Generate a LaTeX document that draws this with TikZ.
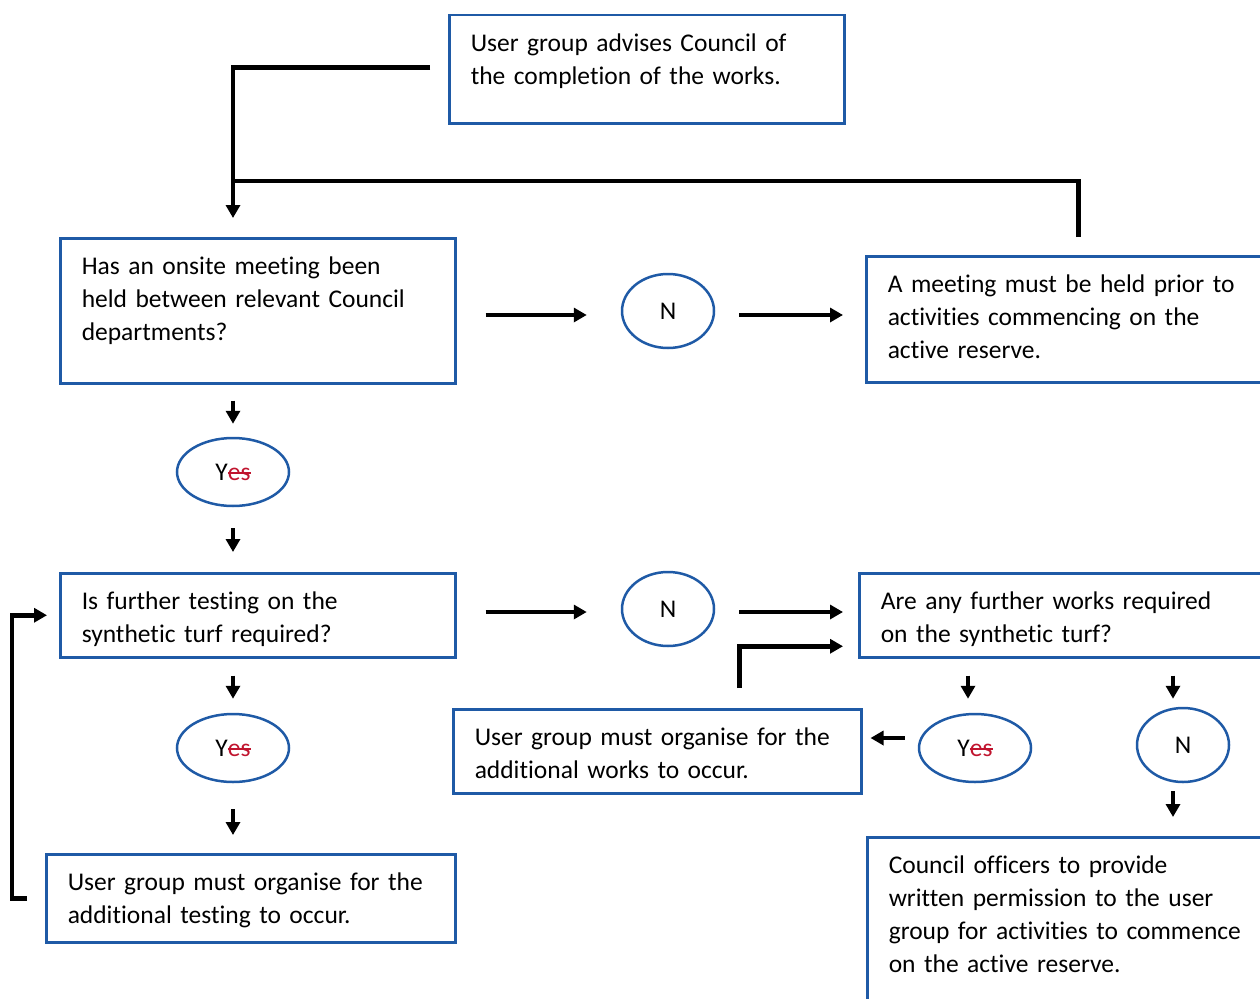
\documentclass[tikz,border=0pt]{standalone}
\usepackage{fontspec}
\setmainfont{Carlito}[Ligatures=NoCommon]
\usetikzlibrary{shapes.geometric, arrows.meta, positioning, calc}
\definecolor{flowblue}{HTML}{1F5AA6}
\definecolor{yesred}{HTML}{C0142E}
\newlength{\eswidth}
\newcommand{\yesword}{Y{\color{yesred}\settowidth{\eswidth}{es}\rlap{es}\rule[0.24em]{\eswidth}{1.8pt}}}

\begin{document}
\begin{tikzpicture}[x=1pt, y=-1pt,
  box/.style={rectangle, draw=flowblue, line width=2.5pt, anchor=north west, align=left, inner xsep=21.5pt, inner ysep=0pt, text height=36pt, font=\fontsize{25.5}{33}\selectfont},
  oval/.style={ellipse, draw=flowblue, line width=2.5pt, inner sep=0pt, minimum width=92pt, minimum height=74pt, font=\fontsize{25.5}{33}\selectfont},
  yesoval/.style={oval, minimum width=112pt, minimum height=68pt},
  arr/.style={-{Triangle[length=13pt, width=14pt]}, line width=4.5pt},
  link/.style={line width=4.5pt},
]
\useasboundingbox (0,0) rectangle (1260,998);
\clip (0,0) rectangle (1260,998);

% --- boxes ---
\node[box, text width=352pt, text depth=72pt] (b1) at (448,14) {User group advises Council of\\ the completion of the works.};
\node[box, text width=352pt, text depth=109pt] (b2) at (59,237) {Has an onsite meeting been\\ held between relevant Council\\ departments?};
\node[box, text width=381pt, text depth=90pt] (b3) at (865,255) {A meeting must be held prior to\\ activities commencing on the\\ active reserve.};
\node[box, text width=352pt, text depth=48pt] (b4) at (59,572) {Is further testing on the\\ synthetic turf required?};
\node[box, text width=387pt, text depth=48pt] (b5) at (858,572) {Are any further works required\\ on the synthetic turf?};
\node[box, text width=365pt, text depth=48pt] (b6) at (452,708) {User group must organise for the\\ additional works to occur.};
\node[box, text width=366pt, text depth=52pt] (b7) at (45,853) {User group must organise for the\\ additional testing to occur.};
\node[box, text width=387pt, text depth=164pt] (b8) at (866,836) {Council officers to provide\\ written permission to the user\\ group for activities to commence\\ on the active reserve.};

% --- answers ---
\node[oval] (n1) at (668,311) {N};
\node[yesoval] (y1) at (233,472) {\yesword};
\node[oval] (n2) at (668,609) {N};
\node[yesoval] (y2) at (233,748) {\yesword};
\node[yesoval] (y3) at (975,748) {\yesword};
\node[oval] (n3) at (1183,745) {N};
\coordinate (join) at (233,181);

% --- arrows ---
\draw[arr, shorten <=18pt, shorten >=19pt] ([yshift=2pt]b1.west) -| (y1.north |- b2.north);
\draw[link, shorten <=18pt] (b3.north) |- (join);
\draw[arr, shorten <=29pt, shorten >=34pt] ([yshift=-4pt]b2.east |- n1.west) -- ([yshift=-4pt]n1.west);
\draw[arr, shorten <=24pt, shorten >=22pt] ([yshift=-4pt]n1.east) -- ([yshift=-4pt]n1.east -| b3.west);
\draw[arr, shorten <=16pt, shorten >=13pt] (y1.north |- b2.south) -- (y1.north);
\draw[arr, shorten <=21pt, shorten >=20pt] (y1.south) -- (y1.south |- b4.north);
\draw[arr, shorten <=29pt, shorten >=34pt] ([yshift=-3pt]b4.east |- n2.west) -- ([yshift=-3pt]n2.west);
\draw[arr, shorten <=24pt, shorten >=15pt] ([yshift=-3pt]n2.east) -- ([yshift=-3pt]n2.east -| b5.west);
\draw[arr, shorten <=20pt, shorten >=15pt] ([xshift=82pt]b6.north) |- ([yshift=-31pt]b5.west);
\draw[arr, shorten <=17pt, shorten >=14pt] (y2.north |- b4.south) -- (y2.north);
\draw[arr, shorten <=26pt, shorten >=18pt] (y2.south) -- (y2.south |- b7.north);
\draw[arr, shorten <=17pt, shorten >=14pt] ([xshift=-7pt]y3.north |- b5.south) -- ([xshift=-7pt]y3.north);
\draw[arr, shorten <=17pt, shorten >=8pt] ([xshift=-10pt]n3.north |- b5.south) -- ([xshift=-10pt]n3.north);
\draw[arr, shorten <=8pt, shorten >=19pt] ([xshift=-10pt]n3.south) -- ([xshift=-10pt]n3.south |- b8.north);
\draw[arr, shorten <=13pt, shorten >=8pt] ([yshift=10pt]y3.west) -- ([yshift=10pt]y3.west -| b6.east);
\draw[arr, shorten <=18pt, shorten >=12pt] (b7.west) -- ++(-33,0) |- (b4.west);
\end{tikzpicture}
\end{document}
